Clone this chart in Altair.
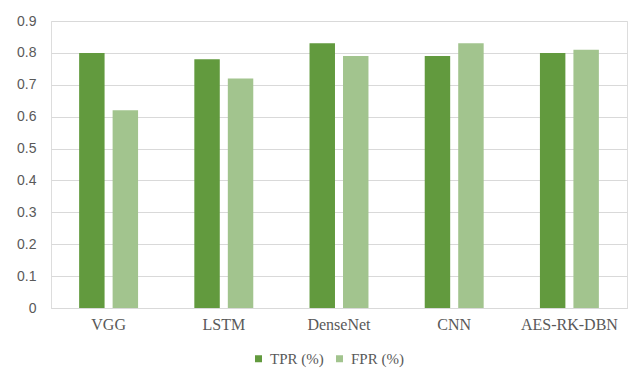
import altair as alt
import pandas as pd

models = ["VGG", "LSTM", "DenseNet", "CNN", "AES-RK-DBN"]
tpr = [0.80, 0.78, 0.83, 0.79, 0.80]
fpr = [0.62, 0.72, 0.79, 0.83, 0.81]
series = ["TPR (%)", "FPR (%)"]
colors = ["#629A3E", "#A2C48E"]

rows = []
for m, t, f in zip(models, tpr, fpr):
    rows.append({"model": m, "series": series[0], "value": t})
    rows.append({"model": m, "series": series[1], "value": f})
df = pd.DataFrame(rows)

chart = alt.Chart(df).mark_bar().encode(
    x=alt.X("model:N", sort=models, title=None,
            scale=alt.Scale(paddingInner=0, paddingOuter=0),
            axis=alt.Axis(labelAngle=0, labelFont="Liberation Serif", labelFontSize=16,
                          labelColor="#595959", labelPadding=8, ticks=False,
                          domain=True, domainColor="#D9D9D9", domainWidth=1.2, grid=False)),
    xOffset=alt.XOffset("series:N", sort=series,
                        scale=alt.Scale(paddingInner=0.24, paddingOuter=0.84)),
    y=alt.Y("value:Q", title=None,
            scale=alt.Scale(domain=[0, 0.9], nice=False),
            axis=alt.Axis(values=[0, 0.1, 0.2, 0.3, 0.4, 0.5, 0.6, 0.7, 0.8, 0.9],
                          format=".1~f", labelFont="Liberation Sans", labelFontSize=14,
                          labelColor="#595959", labelPadding=15, ticks=False, domain=False,
                          grid=True, gridColor="#D9D9D9", gridWidth=1.2)),
    color=alt.Color("series:N", sort=series, title=None,
                    scale=alt.Scale(domain=series, range=colors),
                    legend=alt.Legend(orient="none", legendX=200, legendY=330,
                                      direction="horizontal", symbolType="square",
                                      symbolSize=49, symbolStrokeWidth=0,
                                      labelFont="Liberation Serif", labelFontSize=15,
                                      labelColor="#595959", labelOffset=4,
                                      columnPadding=8)),
).properties(
    width=576, height=287,
    autosize=alt.AutoSizeParams(type="none"),
    padding={"left": 51, "top": 21, "right": 2, "bottom": 61},
).configure_view(stroke=None).configure(background="white").configure_legend(
    labelFont="Liberation Serif"
)

chart.save("out.html", embed_options={"renderer": "svg", "actions": False})
